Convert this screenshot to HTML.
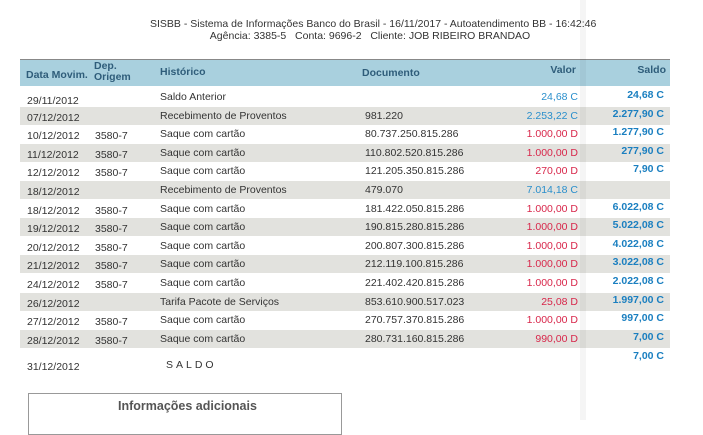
<html><head><style>
body{margin:0;width:703px;height:420px;background:#fff;position:relative;overflow:hidden;font-family:"Liberation Sans",sans-serif;font-size:10.5px;color:#333}
.t{position:absolute;white-space:nowrap}
.r{position:absolute;left:20px;width:650px;height:18px}
.g{background:#e2e2de}
.row span{position:absolute;top:3px;white-space:nowrap}
.v{right:92px;text-align:right}
.s{right:6px;text-align:right;font-weight:bold;color:#1a7fc0}
.red{color:#d8264a}.blue{color:#2a8fcc}
</style></head><body>
<div class="t" style="left:150px;top:18px;width:440px;text-align:center;font-size:10.5px;color:#333">SISBB - Sistema de Informações Banco do Brasil - 16/11/2017 - Autoatendimento BB - 16:42:46<br>Agência: 3385-5&nbsp;&nbsp; Conta: 9696-2&nbsp;&nbsp; Cliente: JOB RIBEIRO BRANDAO</div>
<div style="position:absolute;left:20px;top:59px;width:650px;height:26px;background:#a9d0de;border-top:1px solid #888"></div>
<div class="t" style="left:26px;top:69px;font-weight:bold;color:#2f5d7a">Data Movim.</div>
<div class="t" style="left:94px;top:61px;font-weight:bold;color:#2f5d7a;line-height:11px">Dep.<br>Origem</div>
<div class="t" style="left:160px;top:66px;font-weight:bold;color:#2f5d7a">Histórico</div>
<div class="t" style="left:362px;top:67px;font-weight:bold;color:#2f5d7a">Documento</div>
<div class="t" style="left:540px;top:64px;width:36px;text-align:right;font-weight:bold;color:#2f5d7a">Valor</div>
<div class="t" style="left:620px;top:64px;width:46px;text-align:right;font-weight:bold;color:#2f5d7a">Saldo</div>
<div id="rows"></div>
<div style="position:absolute;left:580px;top:0;width:6px;height:420px;background:rgba(0,0,0,0.04)"></div>
<div style="position:absolute;left:28px;top:393px;width:312px;height:40px;border:1px solid #999"></div>
<div class="t" style="left:118px;top:399px;font-size:12.5px;font-weight:bold;color:#555">Informações adicionais</div>
<script>
var d=[["29/11/2012","","Saldo Anterior","","24,68 C","24,68 C",0,"blue"],
["07/12/2012","","Recebimento de Proventos","981.220","2.253,22 C","2.277,90 C",1,"blue"],
["10/12/2012","3580-7","Saque com cartão","80.737.250.815.286","1.000,00 D","1.277,90 C",0,"red"],
["11/12/2012","3580-7","Saque com cartão","110.802.520.815.286","1.000,00 D","277,90 C",1,"red"],
["12/12/2012","3580-7","Saque com cartão","121.205.350.815.286","270,00 D","7,90 C",0,"red"],
["18/12/2012","","Recebimento de Proventos","479.070","7.014,18 C","",1,"blue"],
["18/12/2012","3580-7","Saque com cartão","181.422.050.815.286","1.000,00 D","6.022,08 C",0,"red"],
["19/12/2012","3580-7","Saque com cartão","190.815.280.815.286","1.000,00 D","5.022,08 C",1,"red"],
["20/12/2012","3580-7","Saque com cartão","200.807.300.815.286","1.000,00 D","4.022,08 C",0,"red"],
["21/12/2012","3580-7","Saque com cartão","212.119.100.815.286","1.000,00 D","3.022,08 C",1,"red"],
["24/12/2012","3580-7","Saque com cartão","221.402.420.815.286","1.000,00 D","2.022,08 C",0,"red"],
["26/12/2012","","Tarifa Pacote de Serviços","853.610.900.517.023","25,08 D","1.997,00 C",1,"red"],
["27/12/2012","3580-7","Saque com cartão","270.757.370.815.286","1.000,00 D","997,00 C",0,"red"],
["28/12/2012","3580-7","Saque com cartão","280.731.160.815.286","990,00 D","7,00 C",1,"red"]];
var h="";
d.forEach(function(r,i){var y=88+i*18.6;
h+='<div class="r row'+(r[6]?' g':'')+'" style="top:'+y+'px"><span style="left:7px;top:'+(i==0?7:5)+'px">'+r[0]+'</span><span style="left:75px;top:5px">'+r[1]+'</span><span style="left:140px">'+r[2]+'</span><span style="left:345px">'+r[3]+'</span><span class="v '+r[7]+'">'+r[4]+'</span><span class="s" style="top:1px">'+r[5]+'</span></div>';});
h+='<div class="r row" style="top:356px"><span style="left:7px;top:5px">31/12/2012</span><span style="left:146px;letter-spacing:3px">SALDO</span><span class="s" style="top:-6px">7,00 C</span></div>';
document.getElementById("rows").innerHTML=h;
</script>
</body></html>
